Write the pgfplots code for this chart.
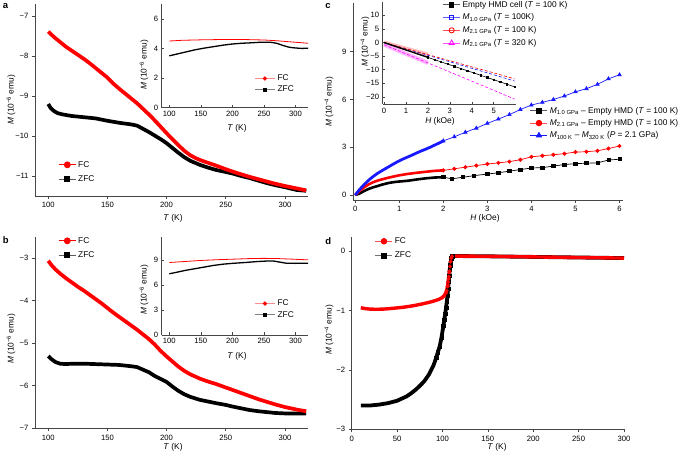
\documentclass[border=0pt]{standalone}
\usepackage{fontspec}
\setmainfont{Liberation Sans}
\setsansfont{Liberation Sans}
\usepackage{pgfplots}
\pgfplotsset{compat=1.18}

\definecolor{fcred}{RGB}{255,0,0}
\definecolor{cblue}{RGB}{25,25,255}
\definecolor{cmag}{RGB}{255,0,255}
\definecolor{axgray}{RGB}{70,70,70}

\newcommand{\tfs}{\fontsize{7.7}{9}\selectfont}
\newcommand{\lfs}{\fontsize{8.4}{10}\selectfont}

\pgfplotsset{
  panel/.style={
    scale only axis,
    anchor=south west,
    axis x line*=bottom,
    axis y line*=left,
    axis line style={axgray, line width=0.6bp, -},
    tick align=outside,
    major tick length=3bp,
    tick style={axgray, line width=0.6bp},
    /pgf/number format/assume math mode=true,
    tick label style={font=\tfs},
    legend style={draw=none, fill=none, font=\lfs, inner sep=0pt, row sep=1bp},
    legend cell align=left,
  },
  inset/.style={panel, tick align=inside, major tick length=2.5bp},
  longimg/.style={legend image code/.code={
    \draw[mark repeat=2, mark phase=2, ##1] plot coordinates {(0bp,0bp) (10bp,0bp) (20bp,0bp)};}},
}

% panel a, main
\pgfplotstableread{
T M
100 -7.39
105 -7.53
110 -7.65
115 -7.77
120 -7.87
125 -7.97
130 -8.07
135 -8.18
140 -8.30
145 -8.42
150 -8.54
155 -8.69
160 -8.82
165 -8.94
170 -9.06
175 -9.18
180 -9.32
185 -9.46
190 -9.61
195 -9.77
200 -9.93
205 -10.08
210 -10.23
215 -10.37
220 -10.48
225 -10.56
230 -10.62
240 -10.72
250 -10.83
260 -10.93
270 -11.02
280 -11.10
290 -11.18
300 -11.25
310 -11.31
318 -11.36
}\aFC
\pgfplotstableread{
T M
100 -9.20
102 -9.30
105 -9.38
108 -9.43
112 -9.46
120 -9.50
130 -9.53
140 -9.56
150 -9.62
160 -9.67
170 -9.71
175 -9.74
180 -9.82
185 -9.90
190 -9.99
195 -10.08
200 -10.18
205 -10.30
210 -10.42
215 -10.53
220 -10.62
228 -10.72
235 -10.79
242 -10.85
250 -10.90
256 -10.94
263 -11.00
270 -11.05
278 -11.12
285 -11.18
292 -11.23
300 -11.28
310 -11.35
318 -11.37
}\aZFC
\pgfplotstableread{
T M
100 4.50
120 4.55
150 4.58
180 4.60
200 4.60
220 4.60
250 4.57
270 4.52
290 4.45
305 4.40
320 4.35
}\aiFC
\pgfplotstableread{
T M
100 3.50
105 3.55
115 3.65
125 3.75
140 3.90
155 4.02
170 4.12
185 4.22
200 4.30
215 4.35
230 4.38
245 4.42
260 4.42
270 4.35
280 4.20
290 4.08
300 4.03
310 4.00
320 4.02
}\aiZFC

% panel b
\pgfplotstableread{
T M
100 -3.06
103 -3.17
106 -3.26
110 -3.36
115 -3.47
120 -3.57
125 -3.67
130 -3.76
135 -3.86
140 -3.96
145 -4.06
150 -4.17
155 -4.28
160 -4.38
165 -4.48
170 -4.58
175 -4.68
180 -4.79
185 -4.90
190 -5.03
195 -5.18
200 -5.31
205 -5.43
210 -5.55
215 -5.65
220 -5.73
228 -5.83
235 -5.90
242 -5.96
250 -6.04
256 -6.10
263 -6.17
270 -6.24
278 -6.32
285 -6.38
292 -6.44
300 -6.50
310 -6.56
318 -6.60
}\bFC
\pgfplotstableread{
T M
100 -5.30
103 -5.38
106 -5.44
110 -5.48
115 -5.49
120 -5.48
130 -5.48
140 -5.49
150 -5.50
160 -5.51
170 -5.54
175 -5.56
180 -5.62
185 -5.68
190 -5.77
195 -5.84
200 -5.91
205 -6.02
210 -6.12
215 -6.20
220 -6.26
228 -6.33
235 -6.37
242 -6.41
250 -6.45
256 -6.49
263 -6.53
270 -6.57
278 -6.60
285 -6.62
292 -6.64
300 -6.65
310 -6.65
318 -6.65
}\bZFC
\pgfplotstableread{
T M
100 8.70
120 8.80
150 8.95
180 9.05
200 9.10
230 9.18
250 9.20
270 9.18
290 9.12
320 9.02
}\biFC
\pgfplotstableread{
T M
100 7.35
110 7.50
125 7.75
140 7.95
155 8.15
170 8.35
185 8.50
200 8.60
220 8.70
240 8.82
255 8.88
265 8.88
275 8.75
285 8.62
300 8.60
320 8.62
}\biZFC

% panel c, dense parts (0-2 kOe) and sparse parts (2-6 kOe)
\pgfplotstableread{
H M
0 0
0.1 0.35
0.2 0.65
0.3 0.92
0.4 1.15
0.5 1.35
0.6 1.52
0.7 1.68
0.8 1.84
0.9 2.00
1.0 2.15
1.1 2.28
1.2 2.40
1.3 2.52
1.4 2.65
1.5 2.77
1.6 2.88
1.7 3.00
1.8 3.13
1.9 3.26
2.0 3.40
}\cBlueD
\pgfplotstableread{
H M
2.0 3.40
2.25 3.66
2.5 3.94
2.75 4.20
3.0 4.50
3.25 4.77
3.5 5.05
3.75 5.37
4.0 5.65
4.25 5.82
4.5 6.00
4.75 6.22
5.0 6.48
5.25 6.68
5.5 6.95
5.75 7.30
6.0 7.55
}\cBlueS
\pgfplotstableread{
H M
0 0
0.1 0.25
0.2 0.48
0.3 0.66
0.4 0.80
0.5 0.90
0.6 0.98
0.7 1.05
0.8 1.12
0.9 1.18
1.0 1.24
1.2 1.33
1.4 1.40
1.6 1.46
1.8 1.52
2.0 1.55
}\cRedD
\pgfplotstableread{
H M
2.0 1.55
2.25 1.65
2.5 1.75
2.75 1.85
3.0 1.95
3.25 2.02
3.5 2.10
3.75 2.22
4.0 2.40
4.25 2.47
4.5 2.53
4.75 2.60
5.0 2.70
5.25 2.72
5.5 2.78
5.75 2.92
6.0 3.08
}\cRedS
\pgfplotstableread{
H M
0 0
0.1 0.10
0.2 0.25
0.3 0.38
0.4 0.48
0.5 0.56
0.6 0.65
0.7 0.72
0.8 0.78
0.9 0.82
1.0 0.85
1.2 0.90
1.4 0.98
1.6 1.05
1.8 1.10
2.0 1.12
}\cBlkD
\pgfplotstableread{
H M
2.0 1.12
2.2 1.02
2.45 1.12
2.7 1.22
3.0 1.32
3.25 1.40
3.5 1.50
3.75 1.60
4.0 1.70
4.25 1.72
4.5 1.82
4.75 1.92
5.0 1.97
5.25 2.00
5.5 2.02
5.75 2.20
6.0 2.25
}\cBlkS

% panel c inset
\pgfplotstableread{
H M
0 0
0.5 -1.37
1.0 -2.74
1.5 -4.10
2.0 -5.47
}\ciBlkD
\pgfplotstableread{
H M
2.0 -5.47
2.3 -6.29
2.6 -7.11
2.9 -7.93
3.2 -8.75
3.5 -9.57
3.8 -10.39
4.1 -11.21
4.4 -12.03
4.7 -12.85
5.0 -13.67
5.3 -14.49
5.6 -15.31
5.95 -16.30
}\ciBlkS
\pgfplotstableread{
H M
0 0
1.0 -2.35
2.0 -4.70
3.0 -7.10
4.0 -9.48
5.0 -11.85
5.95 -14.15
}\ciBlue
\pgfplotstableread{
H M
0 0
1.0 -2.20
2.0 -4.45
3.0 -6.70
4.0 -8.95
5.0 -11.15
5.95 -13.35
}\ciRed
\pgfplotstableread{
H M
0 -0.80
1.0 -4.15
2.0 -7.50
3.0 -10.85
4.0 -14.20
5.0 -17.55
5.95 -20.80
}\ciMag

% panel d
\pgfplotstableread{
T M
10 -0.955
15 -0.970
20 -0.978
25 -0.980
30 -0.980
35 -0.978
40 -0.972
45 -0.965
50 -0.958
55 -0.950
60 -0.940
65 -0.928
70 -0.915
75 -0.900
80 -0.883
85 -0.865
90 -0.845
95 -0.820
98 -0.800
100 -0.780
102 -0.750
103.5 -0.710
104.5 -0.670
105.5 -0.600
106.3 -0.520
107 -0.430
107.7 -0.340
108.3 -0.260
109 -0.180
109.7 -0.120
110.5 -0.090
112 -0.085
150 -0.090
200 -0.100
250 -0.110
300 -0.120
}\dFC
\pgfplotstableread{
T M
10 -2.600
20 -2.600
30 -2.585
40 -2.560
50 -2.520
60 -2.450
65 -2.400
70 -2.340
75 -2.270
80 -2.190
85 -2.080
90 -1.930
93 -1.800
95 -1.700
97 -1.600
99 -1.450
101 -1.260
102 -1.160
103 -1.060
104 -0.950
104.8 -0.850
105.5 -0.750
106.2 -0.630
106.8 -0.520
107.4 -0.420
108 -0.320
108.6 -0.240
109.2 -0.170
109.8 -0.120
110.5 -0.090
112 -0.085
150 -0.090
200 -0.100
250 -0.110
300 -0.120
}\dZFC

\begin{document}
\begin{tikzpicture}
\useasboundingbox (0,0) rectangle (685bp,454bp);

% ---------- a ----------
\begin{axis}[panel, at={(35bp,258bp)}, width=273bp, height=192bp,
  xmin=88.8, xmax=319.5, ymin=-11.5, ymax=-6.7,
  xtick={100,150,...,300}, ytick={-11,-10,-9,-8,-7},
  yticklabels={−11,−10,−9,−8,−7},
  legend style={at={(0.085,0.125)}, anchor=west, row sep=3bp}]
\addlegendimage{fcred, line width=0.8bp, mark=*, mark size=3bp}
\addlegendentry{FC}
\addlegendimage{black!65, line width=0.8bp, mark=square*, mark size=2.5bp, mark options={black}}
\addlegendentry{ZFC}
\addplot[black, line width=3.7bp, forget plot] table {\aZFC};
\addplot[fcred, line width=3.7bp, forget plot] table {\aFC};
\end{axis}

\begin{axis}[inset, longimg, at={(161.7bp,346.3bp)}, width=146.5bp, height=103.7bp,
  xmin=88, xmax=320, ymin=0, ymax=7,
  xtick={100,150,...,300}, ytick={0,2,4,6},
  legend style={at={(0.63,0.227)}, anchor=west, row sep=0bp}]
\addlegendimage{fcred!45, line width=1.4bp, mark=*, mark size=1.3bp, mark options={fcred}}
\addlegendentry{FC}
\addlegendimage{black!50, line width=1bp, mark=square*, mark size=1.2bp, mark options={black}}
\addlegendentry{ZFC}
\addplot[fcred, line width=0.8bp, forget plot] table {\aiFC};
\addplot[black, line width=1.3bp, forget plot] table {\aiZFC};
\end{axis}

% ---------- b ----------
\begin{axis}[panel, at={(35bp,25.7bp)}, width=273bp, height=191.3bp,
  xmin=88.8, xmax=319.5, ymin=-7, ymax=-2.5,
  xtick={100,150,...,300}, ytick={-7,-6,-5,-4,-3},
  yticklabels={−7,−6,−5,−4,−3},
  legend style={at={(0.085,0.9425)}, anchor=west, row sep=3bp}]
\addlegendimage{fcred, line width=0.8bp, mark=*, mark size=3bp}
\addlegendentry{FC}
\addlegendimage{black!65, line width=0.8bp, mark=square*, mark size=2.5bp, mark options={black}}
\addlegendentry{ZFC}
\addplot[black, line width=3.7bp, forget plot] table {\bZFC};
\addplot[fcred, line width=3.7bp, forget plot] table {\bFC};
\end{axis}

\begin{axis}[inset, longimg, at={(161.7bp,119bp)}, width=146.5bp, height=98.3bp,
  xmin=88, xmax=320, ymin=0, ymax=11.8,
  xtick={100,150,...,300}, ytick={0,3,6,9},
  legend style={at={(0.63,0.262)}, anchor=west, row sep=0bp}]
\addlegendimage{fcred!45, line width=1.4bp, mark=*, mark size=1.3bp, mark options={fcred}}
\addlegendentry{FC}
\addlegendimage{black!50, line width=1bp, mark=square*, mark size=1.2bp, mark options={black}}
\addlegendentry{ZFC}
\addplot[fcred, line width=0.8bp, forget plot] table {\biFC};
\addplot[black, line width=1.3bp, forget plot] table {\biZFC};
\end{axis}

% ---------- c ----------
\begin{axis}[panel, at={(353bp,254bp)}, width=270bp, height=196.7bp,
  xmin=-0.05, xmax=6.08, ymin=-0.31, ymax=12.04,
  xtick={0,1,...,6}, ytick={0,3,6,9},
  legend style={at={(0.655,0.391)}, anchor=west, row sep=0.8bp}]
\addlegendimage{black!65, line width=0.8bp, mark=square*, mark size=2.3bp, mark options={black}}
\addlegendentry{\textit{M}\textsubscript{1.0 GPa} – Empty HMD (\textit{T} = 100 K)}
\addlegendimage{fcred!70, line width=0.8bp, mark=*, mark size=2.8bp, mark options={fcred}}
\addlegendentry{\textit{M}\textsubscript{2.1 GPa} – Empty HMD (\textit{T} = 100 K)}
\addlegendimage{cblue, line width=0.8bp, mark=triangle*, mark size=3bp}
\addlegendentry{\textit{M}\textsubscript{100 K} – \textit{M}\textsubscript{320 K} (\textit{P} = 2.1 GPa)}
\addplot[black, line width=2.6bp, forget plot] table {\cBlkD};
\addplot[black, line width=0.7bp, mark=square*, mark size=1.6bp, forget plot] table {\cBlkS};
\addplot[fcred, line width=2.6bp, forget plot] table {\cRedD};
\addplot[fcred, line width=0.7bp, mark=*, mark size=1.7bp, forget plot] table {\cRedS};
\addplot[cblue, line width=2.8bp, forget plot] table {\cBlueD};
\addplot[cblue, line width=0.7bp, mark=triangle*, mark size=2bp, forget plot] table {\cBlueS};
\end{axis}

\begin{axis}[inset, at={(382.7bp,349.7bp)}, width=133bp, height=102.6bp,
  xmin=-0.06, xmax=6, ymin=-22.7, ymax=15,
  xtick={0,1,...,5}, ytick={-20,-15,-10,-5,0,5,10},
  yticklabels={−20,−15,−10,−5,0,5,10},
  legend style={at={(0.45,0.783)}, anchor=west, row sep=1.2bp}]
\addlegendimage{black!65, line width=0.8bp, mark=square*, mark size=2.2bp, mark options={black}}
\addlegendentry{Empty HMD cell (\textit{T} = 100 K)}
\addlegendimage{cblue!70, line width=0.8bp, mark=square, mark size=2.2bp, mark options={cblue}}
\addlegendentry{\textit{M}\textsubscript{1.0 GPa} (\textit{T} = 100K)}
\addlegendimage{fcred!70, line width=0.8bp, mark=o, mark size=2.6bp, mark options={fcred}}
\addlegendentry{\textit{M}\textsubscript{2.1 GPa} (\textit{T} = 100 K)}
\addlegendimage{cmag!70, line width=0.8bp, mark=triangle, mark size=3bp, mark options={cmag}}
\addlegendentry{\textit{M}\textsubscript{2.1 GPa} (\textit{T} = 320 K)}
\addplot[fcred!25, line width=4bp, forget plot] coordinates {(0,0) (2,-4.45)};
\addplot[cmag!30, line width=4bp, forget plot] coordinates {(0,-0.8) (2,-7.5)};
\addplot[cmag, line width=0.6bp, densely dashed, forget plot] table {\ciMag};
\addplot[cblue, line width=0.6bp, densely dashed, forget plot] table {\ciBlue};
\addplot[fcred, line width=0.6bp, densely dashed, forget plot] table {\ciRed};
\addplot[black, line width=1.4bp, forget plot] table {\ciBlkD};
\addplot[black, line width=0.6bp, mark=square*, mark size=0.7bp, forget plot] table {\ciBlkS};
\end{axis}

% ---------- d ----------
\begin{axis}[panel, at={(351.7bp,24.7bp)}, width=272.3bp, height=192.6bp,
  xmin=0, xmax=300, ymin=-3, ymax=0.24,
  xtick={0,50,...,300}, ytick={-3,-2,-1,0},
  yticklabels={−3,−2,−1,0},
  legend style={at={(0.085,0.939)}, anchor=west, row sep=3bp}]
\addlegendimage{fcred!70, line width=0.8bp, mark=*, mark size=2.8bp, mark options={fcred}}
\addlegendentry{FC}
\addlegendimage{black!55, line width=0.8bp, mark=square*, mark size=2.3bp, mark options={black}}
\addlegendentry{ZFC}
\addplot[black, line width=3.8bp, forget plot] table {\dZFC};
\addplot[black, only marks, mark=square*, mark size=1.7bp, restrict x to domain=92:111, forget plot] table {\dZFC};
\addplot[fcred, line width=3.4bp, forget plot] table {\dFC};
\addplot[fcred, only marks, mark=*, mark size=1.8bp, restrict x to domain=100:111, forget plot] table {\dFC};
\end{axis}

% axis titles and panel letters
\begin{scope}[every node/.style={font=\lfs, inner sep=0pt}]
\node at (173bp,236bp) {\textit{T} (K)};
\node[rotate=90] at (11bp,354bp) {\textit{M} (10\textsuperscript{−6} emu)};
\node at (237bp,326bp) {\textit{T} (K)};
\node[rotate=90] at (144bp,389bp) {\textit{M} (10\textsuperscript{−6} emu)};
\node at (173bp,6.3bp) {\textit{T} (K)};
\node[rotate=90] at (11bp,115bp) {\textit{M} (10\textsuperscript{−6} emu)};
\node at (237bp,97.3bp) {\textit{T} (K)};
\node[rotate=90] at (144bp,164bp) {\textit{M} (10\textsuperscript{−6} emu)};
\node at (485bp,236bp) {\textit{H} (kOe)};
\node[rotate=90] at (329bp,352bp) {\textit{M} (10\textsuperscript{−4} emu)};
\node at (440bp,333bp) {\textit{H} (kOe)};
\node[rotate=90] at (365bp,412bp) {\textit{M} (10\textsuperscript{−4} emu)};
\node at (497bp,6.3bp) {\textit{T} (K)};
\node[rotate=90] at (329bp,124bp) {\textit{M} (10\textsuperscript{−4} emu)};
\end{scope}
\begin{scope}[every node/.style={font=\fontsize{9.5}{11}\selectfont\bfseries, inner sep=0pt}]
\node at (5.5bp,447.5bp) {a};
\node at (328bp,448bp) {c};
\node at (5.8bp,213.5bp) {b};
\node at (328.3bp,213bp) {d};
\end{scope}
\end{tikzpicture}
\end{document}
